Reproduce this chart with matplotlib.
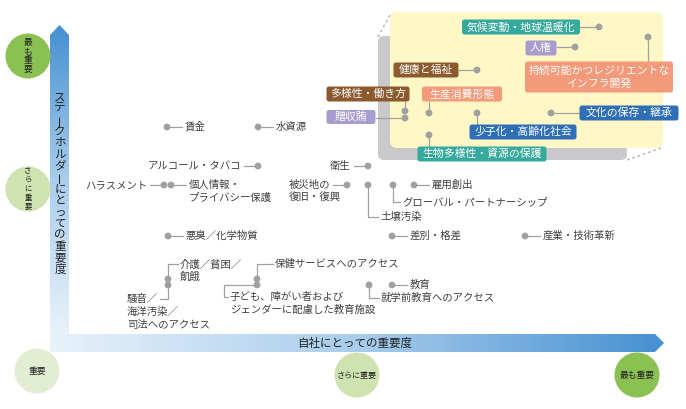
import numpy as np
import matplotlib
matplotlib.use('Agg')
import matplotlib.pyplot as plt
from matplotlib.patches import Polygon, Circle, FancyBboxPatch
from matplotlib.colors import LinearSegmentedColormap

plt.rcParams['font.family'] = ['Noto Sans CJK JP', 'DejaVu Sans']

# ---- data (positions in chart units: x = 自社にとっての重要度, y = ステークホルダーにとっての重要度) ----
# grey issues with a straight connector
plain_names = ['賃金', '水資源', 'アルコール・タバコ', '衛生', 'ハラスメント', '個人情報・\nプライバシー保護',
               '被災地の\n復旧・復興', '雇用創出', '悪臭／化学物質', '差別・格差', '産業・技術革新', '教育']
plain_x = [167, 258, 258, 368, 164, 171, 347, 414, 168, 392, 525, 392]
plain_y = [127, 127, 166, 166, 185, 185, 185, 185, 236, 236, 236, 285]
plain_side = ['r', 'r', 'l', 'l', 'l', 'r', 'l', 'r', 'r', 'r', 'r', 'r']

# grey issues with an elbow connector
elbow_names = ['土壌汚染', 'グローバル・パートナーシップ', '就学前教育へのアクセス', '介護／貧困／\n飢餓',
               '騒音／\n海洋汚染／\n司法へのアクセス', '保健サービスへのアクセス',
               '子ども、障がい者および\nジェンダーに配慮した教育施設']
elbow_x = [368, 393, 369, 168, 168, 257, 257]
elbow_y = [185, 185, 285, 279, 285, 279, 285]
elbow_lx = [380, 402, 381, 180, 127, 275, 230]
elbow_ly = [217, 202, 298, 264, 299, 264, 297]
elbow_kind = ['v', 'v', 'v', 'v', 'vl', 'v', 'hv']

# highlighted (most important) issues
box_names = ['気候変動・地球温暖化', '人権', '健康と福祉', '持続可能かつレジリエントな\nインフラ開発',
             '多様性・働き方', '贈収賄', '生産消費形態', '少子化・高齢化社会', '文化の保存・継承',
             '生物多様性・資源の保護']
box_colors = ['#35a99c', '#a99dd0', '#8b5a2e', '#f29a7a', '#8b5a2e', '#a99dd0', '#f29a7a',
              '#2f6fb6', '#2f6fb6', '#35a99c']
box_dot_x = [599, 575, 477, 648, 405, 405, 429, 477, 551, 429]
box_dot_y = [27, 47, 70, 37, 111, 118, 113, 113, 113, 135]
box_cx = [521, 541, 426, 599, 368, 351, 462, 523, 629, 482]
box_cy = [27, 48, 70, 77, 94, 117, 94, 132, 113, 154]
box_w = [118, 31, 65, 148, 83, 49, 80, 107, 99, 129]
box_h = [15, 15, 15, 31, 15, 14, 15, 15, 15, 15]

# level circles
lvl_text = ['最も重要', 'さらに重要', '重要', 'さらに重要', '最も重要']
lvl_x = [28, 28, 37, 357, 637]
lvl_y = [56, 189, 371, 375, 375]
lvl_col = ['#8bc152', '#cfe3b1', '#e3edd4', '#cfe3b1', '#8bc152']
lvl_vertical = [True, True, False, False, False]
lvl_fs = [6.3, 5.3, 6.3, 5.8, 6.3]

TXT = '#404040'
GREY = '#a0a0a0'
FS = 7.5
LH = 13

fig = plt.figure(figsize=(6.86, 4.09), dpi=100)
ax = fig.add_axes([0, 0, 1, 1])


def put_text(x, y, s, ha='left', color=TXT, fs=FS, lh=LH, **kw):
    for i, line in enumerate(s.split('\n')):
        ax.text(x, y + i * lh, line, ha=ha, va='center', color=color, fontsize=fs, **kw)


# ---- gradient arrows ----
blue = LinearSegmentedColormap.from_list('b', ['#e8f2fb', '#a9cdec', '#4690d2'])
vpoly = Polygon([(50, 334), (50, 35), (59.5, 25), (69, 35), (69, 334)], closed=True,
                facecolor='none', edgecolor='none')
ax.add_patch(vpoly)
im = ax.imshow(np.linspace(1, 0, 256).reshape(-1, 1), extent=[50, 69, 334, 25], origin='upper',
               cmap=blue, aspect='auto', zorder=1)
im.set_clip_path(vpoly)
hpoly = Polygon([(50, 334), (655, 334), (664, 343), (655, 352), (50, 352)], closed=True,
                facecolor='none', edgecolor='none')
ax.add_patch(hpoly)
im2 = ax.imshow(np.linspace(0, 1, 256).reshape(1, -1), extent=[50, 664, 352, 334], origin='upper',
                cmap=blue, aspect='auto', zorder=1)
im2.set_clip_path(hpoly)

ylabel = 'ステークホルダーにとっての重要度'
for i, ch in enumerate(ylabel):
    ax.text(60, 97 + i * 11.5, ch, ha='center', va='center', fontsize=8.3, color='#222',
            rotation=90 if ch == 'ー' else 0, zorder=3)
ax.text(355, 343, '自社にとっての重要度', ha='center', va='center', fontsize=8.3, color='#222', zorder=3)

# ---- level circles ----
for t, x, y, c, vert, fs in zip(lvl_text, lvl_x, lvl_y, lvl_col, lvl_vertical, lvl_fs):
    ax.add_patch(Circle((x, y), 22.5, facecolor=c, edgecolor='none', zorder=2))
    if vert:
        step = 9.2
        y0 = y - step * (len(t) - 1) / 2
        for i, ch in enumerate(t):
            ax.text(x, y0 + i * step, ch, ha='center', va='center', fontsize=fs, color='#222', zorder=3)
    else:
        ax.text(x, y, t, ha='center', va='center', fontsize=fs, color='#222', zorder=3)

# ---- highlight panel ----
ax.add_patch(FancyBboxPatch((378, 36), 249, 124, boxstyle='round,pad=0,rounding_size=6',
                            facecolor='#c9c9cb', edgecolor='none', zorder=1))
ax.add_patch(FancyBboxPatch((390, 12), 273, 136, boxstyle='round,pad=0,rounding_size=7',
                            facecolor='#fff7c6', edgecolor='none', zorder=1.5))
ax.plot([378, 391], [37, 13], color='#b5b5b5', lw=1, ls=(0, (2, 2)), zorder=1)
ax.plot([627, 661], [160, 148], color='#b5b5b5', lw=1, ls=(0, (2, 2)), zorder=1)

# ---- highlighted issues ----
for name, col, dx, dy, cx, cy, w, h in zip(box_names, box_colors, box_dot_x, box_dot_y,
                                            box_cx, box_cy, box_w, box_h):
    x0, x1, y0, y1 = cx - w / 2, cx + w / 2, cy - h / 2, cy + h / 2
    if x0 <= dx <= x1:
        ey = y0 if dy < y0 else y1
        ax.plot([dx, dx], [dy, ey], color=GREY, lw=0.9, zorder=3)
    else:
        ex = x1 if dx > x1 else x0
        ax.plot([dx, ex], [dy, dy], color=GREY, lw=0.9, zorder=3)
    ax.add_patch(FancyBboxPatch((x0, y0), w, h, boxstyle='round,pad=0,rounding_size=2.5',
                                facecolor=col, edgecolor='none', zorder=4))
    nl = name.count('\n')
    put_text(cx, cy - nl * 6.5, name, ha='center', color='white', fs=7.8, lh=13, zorder=5)
ax.scatter(box_dot_x, box_dot_y, s=24, color=GREY, edgecolors='none', zorder=4)

# ---- grey issues ----
for name, x, y, side in zip(plain_names, plain_x, plain_y, plain_side):
    if side == 'r':
        ax.plot([x, x + 15], [y, y], color=GREY, lw=0.9, zorder=2)
        put_text(x + 18, y, name, ha='left')
    else:
        ax.plot([x, x - 14], [y, y], color=GREY, lw=0.9, zorder=2)
        lines = name.split('\n')
        if len(lines) == 1:
            put_text(x - 17, y, name, ha='right')
        else:
            first_w = len(lines[0]) * 10.4
            put_text(x - 17 - first_w, y, name, ha='left')
for name, x, y, lx, ly, kind in zip(elbow_names, elbow_x, elbow_y, elbow_lx, elbow_ly, elbow_kind):
    if kind == 'v':
        xs, ys = [x, x, lx - 2], [y, ly, ly]
    elif kind == 'vl':
        xs, ys = [x, x, x - 8], [y, ly, ly]
    else:
        xs, ys = [x, lx - 6, lx - 6, lx - 2], [y, y, ly, ly]
    ax.plot(xs, ys, color=GREY, lw=0.9, zorder=2)
    put_text(lx, ly, name, ha='left')
ax.scatter(plain_x + elbow_x, plain_y + elbow_y, s=24, color=GREY, edgecolors='none', zorder=3)

ax.set_xlim(0, 686)
ax.set_ylim(409, 0)
ax.axis('off')
fig.savefig('out.png', dpi=100, facecolor='white')
